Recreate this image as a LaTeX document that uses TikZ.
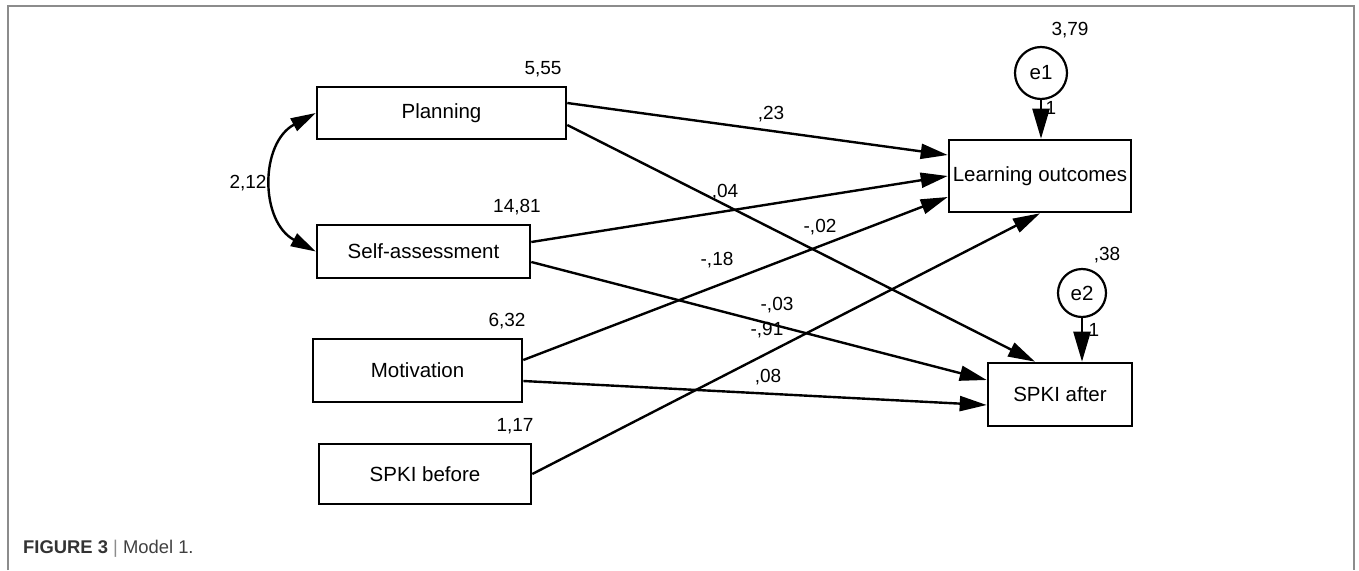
\documentclass[tikz,border=0pt]{standalone}
\usepackage{fontspec}
\setmainfont{Liberation Sans}
\usetikzlibrary{arrows.meta}
\tikzset{
  var/.style={draw, line width=2.6pt, inner sep=0pt, font=\fontsize{20.5}{24}\selectfont},
  err/.style={draw, circle, line width=2.2pt, inner sep=0pt, minimum size=52pt, font=\fontsize{20.5}{24}\selectfont},
  num/.style={inner sep=0pt, font=\fontsize{19}{22}\selectfont},
  path/.style={line width=2.4pt, -{Triangle[length=27pt,width=15pt]}},
  epath/.style={line width=2.4pt, -{Triangle[length=30pt,width=17pt]}},
  cov/.style={line width=2.4pt, {Triangle[length=25pt,width=14pt]}-{Triangle[length=25pt,width=14pt]}},
  frame/.style={draw=black!45, line width=1.6pt}
}
\begin{document}
\begin{tikzpicture}[x=1pt,y=-1pt]
\useasboundingbox (0,0) rectangle (1359,570);
\draw[frame] (8,570) -- (8,6) -- (1354,6) -- (1354,570);

% observed variables
\node[var, minimum width=249pt, minimum height=52pt] (plan) at (441.5,113) {Planning};
\node[var, minimum width=213pt, minimum height=53pt] (sa) at (423.5,251.5) {Self-assessment};
\node[var, minimum width=209pt, minimum height=63pt] (mot) at (417.5,370.5) {Motivation};
\node[var, minimum width=212pt, minimum height=60pt] (bef) at (425,474) {SPKI before};
\node[var, minimum width=182pt, minimum height=72pt] (lo) at (1040,176) {Learning outcomes};
\node[var, minimum width=144pt, minimum height=63pt] (aft) at (1060,394.5) {SPKI after};
\node[err] (e1) at (1041,73) {e1};
\node[err, minimum size=48pt] (e2) at (1082,293) {e2};

% variances
\node[num] (v1) at (543,69) {5,55};
\node[num] (v2) at (517,207) {14,81};
\node[num] (v3) at (507,321) {6,32};
\node[num] (v4) at (515,426) {1,17};
\node[num] (v5) at (1070,30) {3,79};
\node[num] (v6) at (1107,255) {,38};
\node[num] (c1) at (248,183) {2,12};

% paths
\draw[path] ([yshift=10pt]plan.east) -- ([yshift=21pt]lo.west);
\draw[path] ([yshift=-12pt]plan.east) -- ([xshift=-25pt]aft.north);
\draw[path] ([yshift=9.5pt]sa.east) -- (lo.west);
\draw[path] ([yshift=-10.5pt]sa.east) -- ([yshift=14.5pt]aft.west);
\draw[path] ([yshift=10.5pt]mot.east) -- ([yshift=-21pt]lo.west);
\draw[path] ([yshift=-10.5pt]mot.east) -- ([yshift=-10.5pt]aft.west);
\draw[path] (bef.east) -- (lo.south);
\draw[epath] (e1.south) -- (e1.south |- lo.north);
\draw[epath] (e2.south) -- (e2.south |- aft.north);
\draw[cov] (plan.west) .. controls +(-56,30) and +(-56,-30) .. (sa.west);

% path labels
\node[num] (w1) at (771,114) {,23};
\node[num] (w2) at (725,192) {,04};
\node[num] (w3) at (820,227) {-,02};
\node[num] (w4) at (717,260) {-,18};
\node[num] (w5) at (777,305) {-,03};
\node[num] (w6) at (767,330) {-,91};
\node[num] (w7) at (768,377) {,08};
\node[num] (w8) at (1051,108) {1};
\node[num] (w9) at (1094,330) {1};

% caption
\node[anchor=west, inner sep=0pt, font=\fontsize{18.4}{21}\selectfont] (cap) at (23,549)
  {\textcolor{black!80}{\textbf{FIGURE 3}} \textcolor{black!45}{|} \textcolor{black!75}{Model 1.}};
\end{tikzpicture}
\end{document}
